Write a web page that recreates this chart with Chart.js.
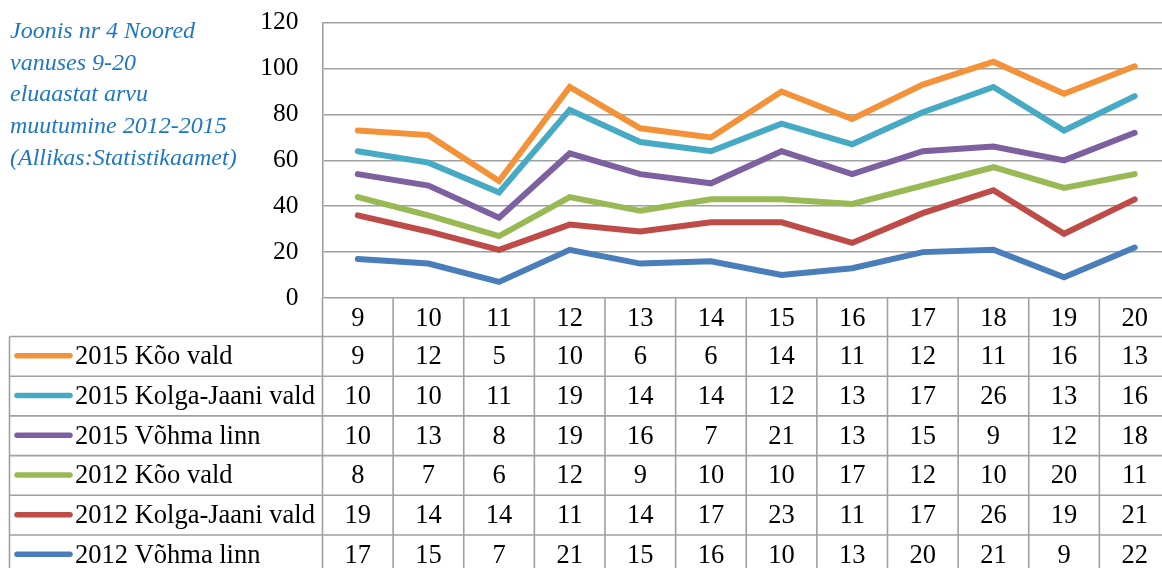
<!DOCTYPE html>
<html>
<head>
<meta charset="utf-8">
<script src="https://cdn.jsdelivr.net/npm/chart.js@4.4.1/dist/chart.umd.min.js"></script>
<style>
  html, body { margin: 0; padding: 0; background: #fff; overflow: hidden; }
  #wrap { position: relative; width: 1170px; height: 568px; }
  #title {
    position: absolute; left: 10px; top: 15px;
    font-family: "Liberation Serif", "Times New Roman", serif;
    font-style: italic; font-size: 24px; line-height: 31.7px;
    color: #1f76c4; white-space: nowrap;
  }
</style>
</head>
<body>
<div id="wrap">
  <canvas id="c" width="1170" height="568"></canvas>
  <div id="title">Joonis nr 4 Noored<br>vanuses 9-20<br>eluaastat arvu<br>muutumine 2012-2015<br>(Allikas:Statistikaamet)</div>
</div>
<script>
// ---- data ----
const categories = ['9','10','11','12','13','14','15','16','17','18','19','20'];
const yTicks = [0, 20, 40, 60, 80, 100, 120];

const names = ['2012 Võhma linn', '2012 Kolga-Jaani vald', '2012 Kõo vald',
               '2015 Võhma linn', '2015 Kolga-Jaani vald', '2015 Kõo vald'];
const v2012Vohma     = [17, 15, 7, 21, 15, 16, 10, 13, 20, 21, 9, 22];
const v2012Kolga     = [19, 14, 14, 11, 14, 17, 23, 11, 17, 26, 19, 21];
const v2012Koo       = [8, 7, 6, 12, 9, 10, 10, 17, 12, 10, 20, 11];
const v2015Vohma     = [10, 13, 8, 19, 16, 7, 21, 13, 15, 9, 12, 18];
const v2015Kolga     = [10, 10, 11, 19, 14, 14, 12, 13, 17, 26, 13, 16];
const v2015Koo       = [9, 12, 5, 10, 6, 6, 14, 11, 12, 11, 16, 13];
const seriesValues = [v2012Vohma, v2012Kolga, v2012Koo, v2015Vohma, v2015Kolga, v2015Koo];
const colors = ['#4a7ebb', '#be4b48', '#98b954', '#7d60a0', '#46aac5', '#f39238'];

// ---- style constants ----
const FONT = '"Liberation Serif", "Times New Roman", serif';
const GRID = '#a0a0a0';
const ROW_H = 39.7;
const TABLE_LEFT = 9.5;

const datasets = names.map((n, i) => ({
  label: n,
  data: seriesValues[i],
  borderColor: colors[i],
  backgroundColor: colors[i],
  borderWidth: 6,
  pointRadius: 0,
  pointHoverRadius: 0,
  tension: 0,
  fill: false,
  borderCapStyle: 'round',
  borderJoinStyle: 'miter'
}));

const tablePlugin = {
  id: 'dataTable',
  afterDraw(chart) {
    const ctx = chart.ctx;
    const ca = chart.chartArea;
    const xs = chart.scales.x;
    const n = categories.length;
    const colW = (xs.getPixelForValue(n - 1) - xs.getPixelForValue(0)) / (n - 1);
    const top = ca.bottom;
    const headerBottom = top + 38.5;
    const rows = names.length;
    ctx.save();
    ctx.strokeStyle = GRID;
    ctx.lineWidth = 1.6;
    ctx.beginPath();
    for (let i = 0; i <= n; i++) {
      const x = xs.getPixelForValue(0) - colW / 2 + i * colW;
      ctx.moveTo(x, top);
      ctx.lineTo(x, 600);
    }
    ctx.moveTo(TABLE_LEFT, headerBottom);
    ctx.lineTo(TABLE_LEFT, 600);
    for (let r = 0; r <= rows; r++) {
      const y = headerBottom + r * ROW_H;
      ctx.moveTo(TABLE_LEFT, y);
      ctx.lineTo(chart.width, y);
    }
    ctx.stroke();

    ctx.fillStyle = '#000';
    ctx.font = '26.5px ' + FONT;
    ctx.textBaseline = 'middle';
    ctx.textAlign = 'center';
    categories.forEach((c, i) => {
      ctx.fillText(c, xs.getPixelForValue(i), (top + headerBottom) / 2 + 2);
    });
    for (let r = 0; r < rows; r++) {
      const di = rows - 1 - r;
      const yc = headerBottom + r * ROW_H + ROW_H / 2 + 1;
      ctx.save();
      ctx.strokeStyle = colors[di];
      ctx.lineWidth = 5.5;
      ctx.lineCap = 'round';
      ctx.beginPath();
      ctx.moveTo(17, yc - 1.5);
      ctx.lineTo(70, yc - 1.5);
      ctx.stroke();
      ctx.restore();
      ctx.textAlign = 'left';
      ctx.fillText(names[di], 75, yc);
      ctx.textAlign = 'center';
      seriesValues[di].forEach((v, i) => {
        ctx.fillText(String(v), xs.getPixelForValue(i), yc);
      });
    }
    ctx.restore();
  }
};

new Chart(document.getElementById('c'), {
  type: 'line',
  data: { labels: categories, datasets },
  plugins: [tablePlugin],
  options: {
    responsive: false,
    animation: false,
    devicePixelRatio: 1,
    layout: { padding: { top: 22.7, bottom: 270, left: 0, right: 0 } },
    plugins: { legend: { display: false }, tooltip: { enabled: false }, title: { display: false } },
    scales: {
      x: {
        display: false,
        offset: true,
        grid: { display: false }
      },
      y: {
        stacked: true,
        min: 0,
        max: 120,
        afterFit(scale) { scale.width = 322.5; },
        afterBuildTicks(scale) { scale.ticks = yTicks.map(v => ({ value: v })); },
        ticks: {
          padding: 0,
          color: '#000',
          font: { family: FONT, size: 25.5 },
          stepSize: 20
        },
        grid: { color: GRID, lineWidth: 1.6, drawTicks: true, tickLength: 24, tickColor: 'rgba(0,0,0,0)' },
        border: { display: true, color: GRID, width: 1.6 }
      }
    }
  }
});
</script>
</body>
</html>
